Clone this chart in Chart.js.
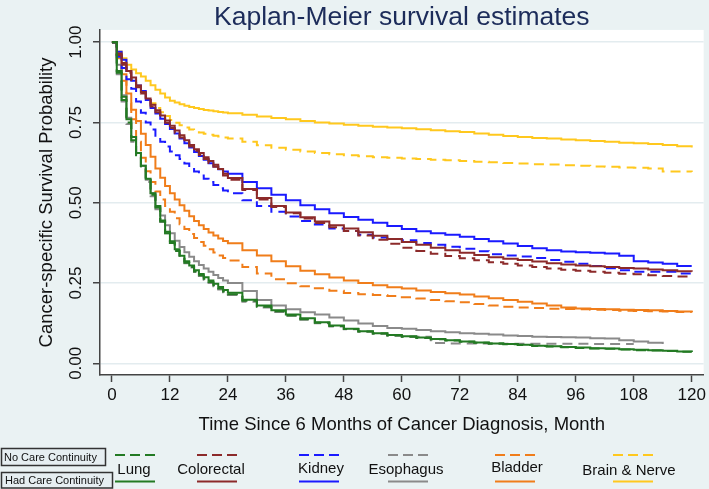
<!DOCTYPE html>
<html>
<head>
<meta charset="utf-8">
<script src="https://cdn.jsdelivr.net/npm/chart.js@4.4.0/dist/chart.umd.min.js"></script>
<style>
  html, body { margin: 0; padding: 0; background: #eaf2f3; }
  #wrap { width: 709px; height: 489px; }
</style>
</head>
<body>
<div id="wrap"><canvas id="Chart" width="709" height="489"></canvas></div>
<script>
// months since 6 months after diagnosis (shared x values)
const months = [0,1,2,3,4,5,6,7,8,9,10,11,12,13,14,15,16,17,18,19,20,21,22,23,24,
  27,30,33,36,39,42,45,48,51,54,57,60,
  63,66,69,72,75,78,81,84,87,90,93,96,99,102,105,108,111,114,117,120];

const xTicks = [0,12,24,36,48,60,72,84,96,108,120];
const yTicks = [0,0.25,0.5,0.75,1];

const categories = ['Lung', 'Colorectal', 'Kidney', 'Esophagus', 'Bladder', 'Brain & Nerve'];
const colors = ['#237a23', '#8c2a2a', '#1a1aff', '#8a8a8a', '#f07d1a', '#ffc81e'];

// No care continuity (dashed)
const lungNo = [1.0,0.905,0.82,0.75,0.695,0.648,0.608,0.57,0.525,0.485,0.442,0.405,0.375,0.35,0.33,0.313,0.3,0.286,0.274,0.263,0.253,0.243,0.233,0.224,0.215,
  0.195,0.176,0.162,0.149,0.137,0.126,0.116,0.107,0.099,0.093,0.087,0.083,
  0.079,0.075,0.071,0.067,0.064,0.062,0.059,0.057,0.054,0.052,0.05,0.048,0.046,0.045,0.043,0.041,0.04,0.038,0.036,0.035];
const colNo = [1.0,0.96,0.93,0.905,0.882,0.86,0.84,0.82,0.8,0.782,0.765,0.749,0.733,0.718,0.703,0.689,0.675,0.662,0.649,0.636,0.624,0.612,0.598,0.585,0.572,
  0.54,0.51,0.487,0.467,0.451,0.437,0.424,0.412,0.398,0.385,0.372,0.36,
  0.35,0.341,0.334,0.327,0.321,0.315,0.31,0.305,0.3,0.295,0.291,0.288,0.285,0.282,0.279,0.277,0.274,0.272,0.27,0.268];
const kidNo = [1.0,0.955,0.92,0.885,0.855,0.815,0.78,0.75,0.728,0.705,0.69,0.675,0.66,0.648,0.636,0.622,0.61,0.597,0.585,0.575,0.565,0.555,0.545,0.538,0.53,
  0.508,0.49,0.472,0.457,0.443,0.432,0.42,0.412,0.4,0.392,0.387,0.383,
  0.375,0.369,0.363,0.357,0.349,0.34,0.336,0.333,0.328,0.322,0.316,0.31,0.303,0.296,0.29,0.285,0.285,0.285,0.28,0.265];
const esoNo = [1.0,0.9,0.815,0.745,0.69,0.645,0.605,0.565,0.52,0.48,0.44,0.405,0.375,0.35,0.33,0.312,0.298,0.284,0.272,0.26,0.25,0.24,0.23,0.221,0.213,
  0.192,0.174,0.16,0.148,0.136,0.125,0.115,0.106,0.098,0.092,0.086,0.083,
  0.083,0.063,0.062,0.062,0.062,0.061,0.061,0.061,0.061,0.061,0.061,0.061,0.06,0.06,0.06,0.06,null,null,null,null];
const bladNo = [1.0,0.95,0.88,0.81,0.76,0.69,0.64,0.598,0.565,0.535,0.51,0.49,0.472,0.452,0.433,0.418,0.403,0.39,0.378,0.366,0.355,0.345,0.336,0.328,0.32,
  0.3,0.28,0.262,0.249,0.24,0.234,0.226,0.219,0.215,0.213,0.21,0.206,
  0.202,0.197,0.193,0.19,0.185,0.18,0.176,0.174,0.172,0.17,0.169,0.168,0.167,0.166,0.164,0.163,0.162,0.161,0.16,0.159];
const brainNo = [1.0,0.97,0.94,0.91,0.885,0.862,0.843,0.826,0.81,0.795,0.782,0.77,0.758,0.749,0.741,0.734,0.728,0.723,0.719,0.715,0.712,0.709,0.706,0.703,0.7,
  0.69,0.679,0.671,0.665,0.66,0.655,0.651,0.648,0.645,0.642,0.64,0.638,
  0.636,0.634,0.632,0.63,0.628,0.626,0.624,0.622,0.62,0.619,0.617,0.615,0.613,0.612,0.61,0.609,0.607,0.597,0.597,0.596];

// Had care continuity (solid)
const lungHad = [1.0,0.91,0.83,0.76,0.705,0.655,0.615,0.575,0.53,0.49,0.445,0.41,0.38,0.355,0.335,0.318,0.305,0.29,0.278,0.268,0.258,0.248,0.238,0.228,0.22,
  0.198,0.18,0.165,0.152,0.14,0.128,0.118,0.108,0.1,0.094,0.088,0.084,
  0.08,0.076,0.072,0.068,0.065,0.062,0.06,0.058,0.055,0.053,0.051,0.049,0.047,0.046,0.044,0.042,0.041,0.039,0.037,0.036];
const colHad = [1.0,0.965,0.935,0.91,0.89,0.865,0.845,0.825,0.805,0.788,0.772,0.756,0.74,0.725,0.71,0.695,0.68,0.667,0.655,0.642,0.63,0.618,0.605,0.59,0.577,
  0.543,0.515,0.49,0.47,0.455,0.442,0.43,0.42,0.408,0.397,0.387,0.378,
  0.369,0.36,0.352,0.344,0.337,0.33,0.326,0.322,0.317,0.312,0.308,0.305,0.302,0.3,0.297,0.295,0.292,0.29,0.287,0.285];
const kidHad = [1.0,0.97,0.945,0.91,0.88,0.865,0.848,0.82,0.795,0.778,0.762,0.745,0.73,0.716,0.7,0.685,0.672,0.658,0.646,0.634,0.623,0.613,0.604,0.597,0.59,
  0.565,0.545,0.525,0.508,0.492,0.48,0.467,0.456,0.447,0.438,0.428,0.418,
  0.411,0.405,0.4,0.394,0.387,0.38,0.373,0.365,0.358,0.352,0.348,0.346,0.344,0.342,0.335,0.318,0.314,0.31,0.303,0.303];
const esoHad = [1.0,0.93,0.835,0.765,0.705,0.655,0.615,0.572,0.53,0.49,0.46,0.43,0.405,0.382,0.362,0.346,0.332,0.318,0.306,0.295,0.285,0.275,0.266,0.258,0.25,
  0.225,0.197,0.18,0.168,0.159,0.152,0.143,0.133,0.124,0.116,0.11,0.108,
  0.104,0.1,0.097,0.094,0.092,0.09,0.087,0.085,0.083,0.082,0.081,0.08,0.078,0.077,0.072,0.068,0.064,0.06,null,null];
const bladHad = [1.0,0.96,0.9,0.84,0.79,0.755,0.715,0.68,0.643,0.607,0.578,0.552,0.53,0.51,0.492,0.475,0.458,0.443,0.43,0.418,0.407,0.398,0.389,0.381,0.374,
  0.352,0.336,0.318,0.302,0.288,0.277,0.267,0.258,0.25,0.243,0.237,0.233,
  0.227,0.222,0.218,0.214,0.208,0.203,0.197,0.192,0.186,0.18,0.174,0.171,0.169,0.168,0.167,0.166,0.165,0.163,0.161,0.159];
const brainHad = [1.0,0.97,0.95,0.93,0.915,0.903,0.893,0.88,0.866,0.852,0.84,0.828,0.818,0.812,0.807,0.802,0.798,0.795,0.792,0.789,0.787,0.785,0.783,0.781,0.779,
  0.774,0.769,0.764,0.76,0.755,0.75,0.747,0.743,0.74,0.737,0.734,0.732,
  0.729,0.726,0.723,0.72,0.716,0.712,0.708,0.705,0.702,0.7,0.697,0.695,0.692,0.69,0.687,0.685,0.683,0.68,0.676,0.672];

const noCare = [lungNo, colNo, kidNo, esoNo, bladNo, brainNo];
const hadCare = [lungHad, colHad, kidHad, esoHad, bladHad, brainHad];

function toPoints(vals) {
    return months.map((m, i) => ({x: m, y: vals[i]})).filter(p => p.y !== null);
}

const datasets = [];
categories.forEach((c, i) => {
    datasets.push({
        label: c + ' - No Care Continuity',
        data: toPoints(noCare[i]),
        borderColor: colors[i],
        borderWidth: 2,
        borderDash: [10, 6],
        pointRadius: 0,
        fill: false,
        stepped: true
    });
    datasets.push({
        label: c + ' - Had Care Continuity',
        data: toPoints(hadCare[i]),
        borderColor: colors[i],
        borderWidth: 2,
        pointRadius: 0,
        fill: false,
        stepped: true
    });
});

// background + white plot region
const bgPlugin = {
    id: 'bg',
    beforeDraw(chart) {
        const {ctx, chartArea: a} = chart;
        ctx.save();
        ctx.fillStyle = '#eaf2f3';
        ctx.fillRect(0, 0, chart.width, chart.height);
        ctx.fillStyle = '#ffffff';
        ctx.fillRect(a.left, a.top, a.right - a.left, a.bottom - a.top);
        ctx.restore();
    }
};

// vertical y tick labels (Stata style)
const yLabelPlugin = {
    id: 'yLabels',
    afterDraw(chart) {
        const s = chart.scales.y;
        const ctx = chart.ctx;
        ctx.save();
        ctx.font = '17px "Liberation Sans", Arial, sans-serif';
        ctx.fillStyle = '#111';
        ctx.textAlign = 'center';
        ctx.textBaseline = 'middle';
        s.ticks.forEach(t => {
            ctx.save();
            ctx.translate(s.right - 24, s.getPixelForValue(t.value));
            ctx.rotate(-Math.PI / 2);
            ctx.fillText(t.value.toFixed(2), 0, 0);
            ctx.restore();
        });
        ctx.restore();
    }
};

// legend below the axis title
const legendX = [115, 197, 299, 388, 495, 613];
const legendTextX = [134, 211, 321, 406, 517, 629];
const legendTextY = [470, 470, 469, 470, 468, 471];

const legendPlugin = {
    id: 'kmLegend',
    afterDraw(chart) {
        const ctx = chart.ctx;
        ctx.save();
        // group boxes
        ctx.font = '11px "Liberation Sans", Arial, sans-serif';
        ctx.textBaseline = 'middle';
        ctx.textAlign = 'left';
        ctx.lineWidth = 1.5;
        ctx.strokeStyle = '#333';
        ctx.fillStyle = '#e6eef1';
        ctx.fillRect(1.5, 448.5, 104, 17);
        ctx.strokeRect(1.5, 448.5, 104, 17);
        ctx.fillRect(1.5, 472.5, 111, 15.5);
        ctx.strokeRect(1.5, 472.5, 111, 15.5);
        ctx.fillStyle = '#111';
        ctx.fillText('No Care Continuity', 4, 457.5);
        ctx.fillText('Had Care Continuity', 5, 480.5);

        ctx.font = '15px "Liberation Sans", Arial, sans-serif';
        ctx.textAlign = 'center';
        categories.forEach((c, i) => {
            ctx.strokeStyle = colors[i];
            ctx.lineWidth = 2;
            ctx.setLineDash([10, 5]);
            ctx.beginPath();
            ctx.moveTo(legendX[i], 455);
            ctx.lineTo(legendX[i] + 40, 455);
            ctx.stroke();
            ctx.setLineDash([]);
            ctx.beginPath();
            ctx.moveTo(legendX[i], 481.5);
            ctx.lineTo(legendX[i] + 40, 481.5);
            ctx.stroke();
            ctx.fillStyle = '#111';
            ctx.fillText(c, legendTextX[i], legendTextY[i]);
        });
        ctx.restore();
    }
};

Chart.defaults.font.family = '"Liberation Sans", Arial, sans-serif';

const ctx = document.getElementById('Chart').getContext('2d');
const myChart = new Chart(ctx, {
    type: 'line',
    data: { datasets: datasets },
    options: {
        responsive: false,
        animation: false,
        devicePixelRatio: 1,
        layout: { padding: { left: 0, right: 3, top: 0, bottom: 50 } },
        plugins: {
            legend: { display: false },
            tooltip: { enabled: false },
            title: {
                display: true,
                text: 'Kaplan-Meier survival estimates',
                color: '#1c2c5a',
                fullSize: false,
                font: { size: 26.5, weight: 'normal', lineHeight: 0.94 },
                padding: { top: 5, bottom: 0 }
            }
        },
        scales: {
            x: {
                type: 'linear',
                min: -2.47,
                max: 122.47,
                afterBuildTicks: s => { s.ticks = xTicks.map(v => ({value: v})); },
                afterFit: s => { s.height = 64; },
                grid: { drawOnChartArea: false, tickLength: 7, tickColor: '#444', tickWidth: 1.5 },
                border: { color: '#444', width: 1.5 },
                ticks: { color: '#111', font: { size: 17 }, padding: 3, maxRotation: 0, autoSkip: false },
                title: {
                    display: true,
                    text: 'Time Since 6 Months of Cancer Diagnosis, Month',
                    color: '#111',
                    font: { size: 18.5 },
                    padding: { top: 0, bottom: 3 }
                }
            },
            y: {
                type: 'linear',
                min: -0.0364,
                max: 1.0383,
                afterBuildTicks: s => { s.ticks = yTicks.map(v => ({value: v})); },
                afterFit: s => { s.width = 100; },
                grid: { color: '#e3ecef', lineWidth: 1.5, tickLength: 7, tickColor: '#444', tickWidth: 1.5 },
                border: { color: '#444', width: 1.5 },
                ticks: { display: false },
                title: {
                    display: true,
                    text: 'Cancer-specific Survival Probability',
                    color: '#111',
                    font: { size: 18.5 },
                    padding: { top: 36, bottom: 0 }
                }
            }
        }
    },
    plugins: [bgPlugin, yLabelPlugin, legendPlugin]
});
</script>
</body>
</html>
